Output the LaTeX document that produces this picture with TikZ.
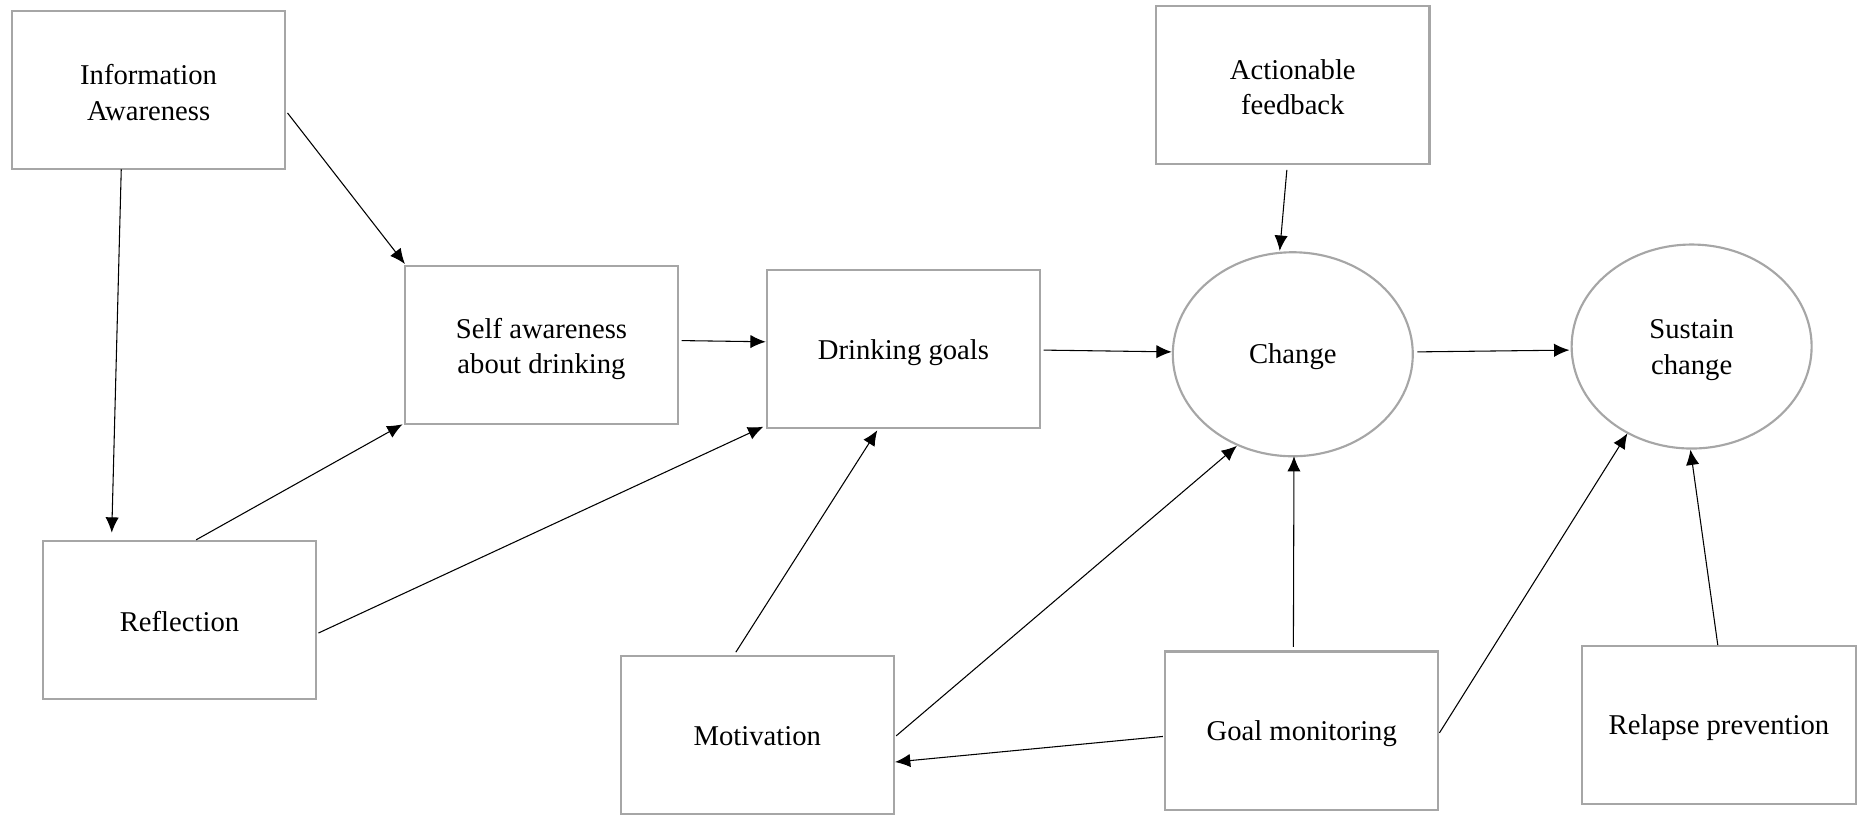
\documentclass[tikz,border=0pt]{standalone}
\usepackage{fontspec}
\setmainfont{Liberation Serif}
\usetikzlibrary{shapes.geometric,arrows.meta,calc}
\definecolor{boxgray}{HTML}{A6A6A6}
\tikzset{
  box/.style={draw=boxgray, line width=1.6pt, rectangle, minimum width=205pt, minimum height=118.6pt, inner sep=0pt},
  oval/.style={draw=boxgray, line width=1.6pt, ellipse, minimum width=180pt, minimum height=153pt, inner sep=0pt},
  lbl/.style={inner sep=0pt, align=center, font=\fontsize{21.5}{26.7}\selectfont},
  arr/.style={-{Latex[length=11.5pt,width=10pt]}, line width=0.8pt, black}
}
\begin{document}
\begin{tikzpicture}[x=0.8916pt, y=-0.8916pt]
\useasboundingbox (0,0) rectangle (1568,685);
\node[box] (info) at (125,76) {};
\node[box] (self) at (455.5,290.5) {};
\node[box] (drink) at (760,293.5) {};
\node[box] (act) at (1087.5,71.5) {};
\node[oval] (change) at (1087.5,298) {};
\node[oval] (sustain) at (1423,291.5) {};
\node[box] (refl) at (151,521.5) {};
\node[box] (mot) at (637,618) {};
\node[box] (goal) at (1095,614.5) {};
\node[box] (relapse) at (1446,610) {};

\node[lbl] (infot) at ($(info.center)+(0,2)$) {Information\\Awareness};
\node[lbl] (selft) at ($(self.center)+(0,3)$) {Self awareness\\about drinking};
\node[lbl] (drinkt) at ($(drink.center)+(0,3)$) {Drinking goals};
\node[lbl] (actt) at ($(act.center)+(0,2)$) {Actionable\\feedback};
\node[lbl] (changet) at ($(change.center)+(0,2)$) {Change};
\node[lbl] (sustaint) at ($(sustain.center)+(0,3)$) {Sustain\\change};
\node[lbl] (reflt) at ($(refl.center)+(0,1.5)$) {Reflection};
\node[lbl] (mott) at ($(mot.center)+(0,1.5)$) {Motivation};
\node[lbl] (goalt) at ($(goal.center)+(0,3)$) {Goal monitoring};
\node[lbl] (relapset) at ($(relapse.center)+(0,2)$) {Relapse prevention};

\draw[arr] ($(info.south)+(-23,-1)$) -- ($(refl.north)+(-57,-6)$);
\draw[arr] ($(info.east)+(1,19)$) -- ($(self.north west)+(1,-1)$);
\draw[arr] ($(refl.north)+(14,0)$) -- ($(self.south west)+(-1,-1)$);
\draw[arr] ($(refl.east)+(1,11)$) -- ($(drink.south west)+(-2,-2)$);
\draw[arr] ($(self.east)+(2,-4)$) -- ($(drink.west)+(0,-6)$);
\draw[arr] ($(mot.north)+(-18,-2)$) -- ($(drink.south)+(-22,1)$);
\draw[arr] ($(drink.east)+(2,1)$) -- ($(change.west)+(0,-2)$);
\draw[arr] ($(act.south)+(-5,4)$) -- ($(change.center)+(-11,-87)$);
\draw[arr] ($(mot.east)+(1,1)$) -- ($(change.center)+(-47,77)$);
\draw[arr] ($(goal.north)+(-7,-3)$) -- ($(change.south)+(1,-1)$);
\draw[arr] ($(goal.west)+(-1,5)$) -- ($(mot.east)+(0,23)$);
\draw[arr] ($(change.east)+(3,-2)$) -- ($(sustain.west)+(-1,3)$);
\draw[arr] ($(goal.east)+(0,2)$) -- ($(sustain.center)+(-54,73)$);
\draw[arr] ($(relapse.north)+(-1,0)$) -- ($(sustain.south)+(-1,0)$);
\end{tikzpicture}
\end{document}
